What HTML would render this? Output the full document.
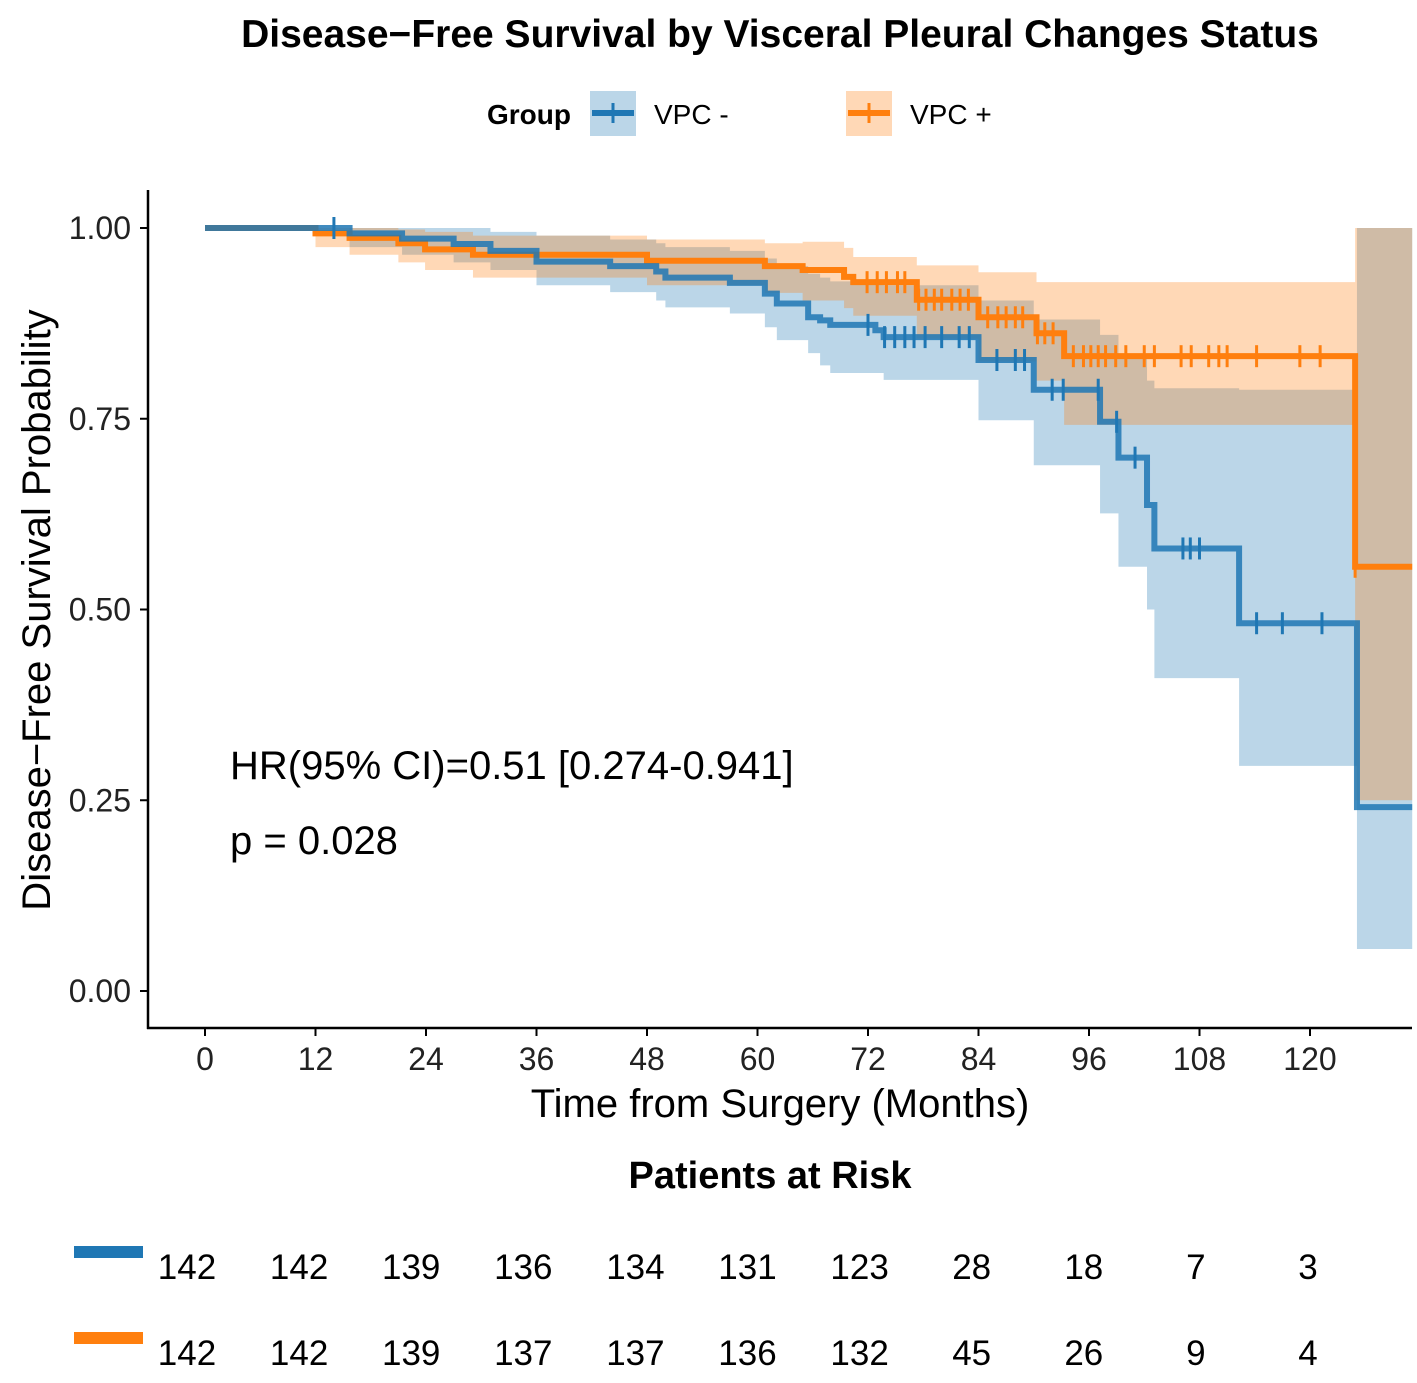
<!DOCTYPE html>
<html><head><meta charset="utf-8"><style>
body{margin:0;background:#fff;}
svg{display:block;font-family:"Liberation Sans",Arial,sans-serif;}
</style></head><body>
<svg id="chart" width="1417" height="1383" viewBox="0 0 1417 1383">
<text x="780" y="47" text-anchor="middle" font-size="39" font-weight="bold">Disease−Free Survival by Visceral Pleural Changes Status</text>
<g>
<text x="487" y="124" font-size="28" font-weight="bold">Group</text>
<g>
<rect x="590" y="91" width="46" height="45" fill="rgba(31,119,180,0.3)"/>
<line x1="592" y1="113" x2="634" y2="113" stroke="#1f77b4" stroke-width="6"/>
<line x1="613" y1="103" x2="613" y2="123" stroke="#1f77b4" stroke-width="3"/>
<text x="654" y="124" font-size="28">VPC -</text></g>
<g>
<rect x="846" y="91" width="46" height="45" fill="rgba(255,127,14,0.3)"/>
<line x1="848" y1="113" x2="890" y2="113" stroke="#ff7f0e" stroke-width="6"/>
<line x1="869" y1="103" x2="869" y2="123" stroke="#ff7f0e" stroke-width="3"/>
<text x="910" y="124" font-size="28">VPC +</text></g>
</g>
<g id="plot"></g>
<g id="axes"></g>
<text x="230" y="779" font-size="40">HR(95% CI)=0.51 [0.274-0.941]</text>
<text x="230" y="854" font-size="40">p = 0.028</text>
<text x="780" y="1117" text-anchor="middle" font-size="40">Time from Surgery (Months)</text>
<text transform="translate(50,610) rotate(-90)" text-anchor="middle" font-size="40">Disease−Free Survival Probability</text>
<text x="770" y="1188" text-anchor="middle" font-size="38" font-weight="bold">Patients at Risk</text>
<rect x="74" y="1246" width="69" height="12" fill="#1f77b4"/>
<rect x="74" y="1332" width="69" height="12" fill="#ff7f0e"/>
<g id="risk"></g>
</svg>
<script>
const xTicks=[0,12,24,36,48,60,72,84,96,108,120];
const yTicks=[0,0.25,0.5,0.75,1.0];
const yTickLabels=["0.00","0.25","0.50","0.75","1.00"];
const tEnd=131.1;
// blue (VPC -) survival steps
const blueT=[0,15.7,21.4,27,31,36,44,49,50,57,60.8,62.1,65.5,66.8,67.9,72.8,73.7,84,90,97.2,99.2,102.3,103.1,112.3,125.1];
const blueS=[1,0.993,0.986,0.979,0.970,0.956,0.950,0.943,0.935,0.928,0.914,0.901,0.883,0.879,0.873,0.866,0.857,0.827,0.788,0.746,0.699,0.637,0.580,0.482,0.241];
const blueBandT=[0,15.7,21.4,27,31,36,44,49,50,57,60.8,62.1,65.5,66.8,67.9,73.7,84,90,97.2,99.2,102.3,103.1,112.3,125.1];
const blueLo=[1,0.975,0.965,0.955,0.945,0.925,0.916,0.905,0.896,0.888,0.870,0.853,0.836,0.820,0.810,0.801,0.748,0.689,0.626,0.556,0.50,0.41,0.295,0.055];
const blueHi=[1,1,1,1,0.995,0.99,0.985,0.98,0.975,0.97,0.96,0.95,0.94,0.935,0.93,0.925,0.905,0.88,0.86,0.83,0.80,0.79,0.788,1];
const blueCens=[14,72,73.8,74.9,76,77,78.2,80,81.9,83,86,88,89,92,93.2,97,99,101,106.2,107,108,114.2,117,121.3];
// orange (VPC +)
const orangeT=[0,12,15.7,21,23.9,29.1,48,60.8,64.9,69.4,70.4,77.3,84,90.3,93.3,124.9];
const orangeS=[1,0.993,0.987,0.980,0.972,0.965,0.957,0.950,0.945,0.936,0.929,0.906,0.883,0.862,0.832,0.556];
const orangeBandT=[0,12,15.7,21,23.9,29.1,48,60.8,64.9,69.4,70.4,77.3,84,90.3,93.3,124.9];
const orangeLo=[1,0.975,0.965,0.955,0.945,0.935,0.925,0.915,0.905,0.895,0.885,0.855,0.825,0.80,0.742,0.25];
const orangeHi=[1,1,1,0.998,0.995,0.99,0.985,0.98,0.982,0.974,0.962,0.951,0.942,0.929,0.929,1];
const orangeCens=[71.9,73,74,75.2,76,77.5,78.3,79.2,80,81.1,82,82.9,85,86.1,87,88,88.8,90.4,91.2,92.1,94.3,95.4,96.2,97,97.8,98.9,100,102,103.1,106,107.1,109,110.1,111,114.2,118.9,121.1,124.9];
const riskTimes=[0,12,24,36,48,60,72,84,96,108,120,132];
const riskBlue=[142,142,139,136,134,131,123,28,18,7,3,0];
const riskOrange=[142,142,139,137,137,136,132,45,26,9,4,0];

const X=t=>205+t*(1105/120);
const Y=s=>991-s*763;
const RX=t=>187+t*(112.1/12);
const NS="http://www.w3.org/2000/svg";
function mk(tag,attrs,parent){const e=document.createElementNS(NS,tag);for(const k in attrs)e.setAttribute(k,attrs[k]);parent.appendChild(e);return e;}
const plot=document.getElementById('plot'),axes=document.getElementById('axes'),risk=document.getElementById('risk');

function stepPath(ts,vs){let d=`M${X(ts[0])},${Y(vs[0])}`;for(let i=1;i<ts.length;i++){d+=`H${X(ts[i])}V${Y(vs[i])}`;}d+=`H${X(tEnd)}`;return d;}
function bandPath(ts,lo,hi){let pts=[];for(let i=0;i<ts.length;i++){const t2=i<ts.length-1?ts[i+1]:tEnd;pts.push([X(ts[i]),Y(hi[i])],[X(t2),Y(hi[i])]);}
 for(let i=ts.length-1;i>=0;i--){const t2=i<ts.length-1?ts[i+1]:tEnd;pts.push([X(t2),Y(lo[i])],[X(ts[i]),Y(lo[i])]);}
 return 'M'+pts.map(p=>p.join(',')).join('L')+'Z';}
function stepAt(ts,vs,t){let v=vs[0];for(let i=0;i<ts.length;i++){if(ts[i]<=t)v=vs[i];}return v;}

const bb=mk('path',{d:bandPath(blueBandT,blueLo,blueHi),fill:'rgba(31,119,180,0.3)'},plot);


const ob=mk('path',{d:bandPath(orangeBandT,orangeLo,orangeHi),fill:'rgba(255,127,14,0.3)'},plot);


const ol=mk('path',{d:stepPath(orangeT,orangeS),fill:'none',stroke:'#ff7f0e','stroke-width':6},plot);


const bl=mk('path',{d:stepPath(blueT,blueS),fill:'none',stroke:'#1f77b4','stroke-width':6,'stroke-opacity':0.85},plot);


blueCens.forEach(t=>{const y=Y(stepAt(blueT,blueS,t));const c=mk('line',{x1:X(t),x2:X(t),y1:y-11,y2:y+11,stroke:'#1f77b4','stroke-width':3},plot);

});
orangeCens.forEach(t=>{const y=Y(stepAt(orangeT,orangeS,t));const c=mk('line',{x1:X(t),x2:X(t),y1:y-11,y2:y+11,stroke:'#ff7f0e','stroke-width':3},plot);

});

const ya=mk('line',{x1:148,x2:148,y1:190,y2:1029,stroke:'#000','stroke-width':2.5},axes);


const xa=mk('line',{x1:147,x2:1412,y1:1028,y2:1028,stroke:'#000','stroke-width':2.5},axes);


yTicks.forEach((v,i)=>{mk('line',{x1:140,x2:148,y1:Y(v),y2:Y(v),stroke:'#000','stroke-width':2},axes);
const t=mk('text',{x:131,y:Y(v)+11,'text-anchor':'end','font-size':32,fill:'#222'},axes);t.textContent=yTickLabels[i];

});
xTicks.forEach(v=>{mk('line',{x1:X(v),x2:X(v),y1:1028,y2:1036,stroke:'#000','stroke-width':2},axes);
const t=mk('text',{x:X(v),y:1070,'text-anchor':'middle','font-size':32,fill:'#222'},axes);t.textContent=v;

});
riskTimes.forEach((t,i)=>{
const a=mk('text',{x:RX(t)+(t>125?8:0),y:1279,'text-anchor':'middle','font-size':35},risk);a.textContent=riskBlue[i];


const b=mk('text',{x:RX(t)+(t>125?8:0),y:1365,'text-anchor':'middle','font-size':35},risk);b.textContent=riskOrange[i];

});
</script>
</body></html>
